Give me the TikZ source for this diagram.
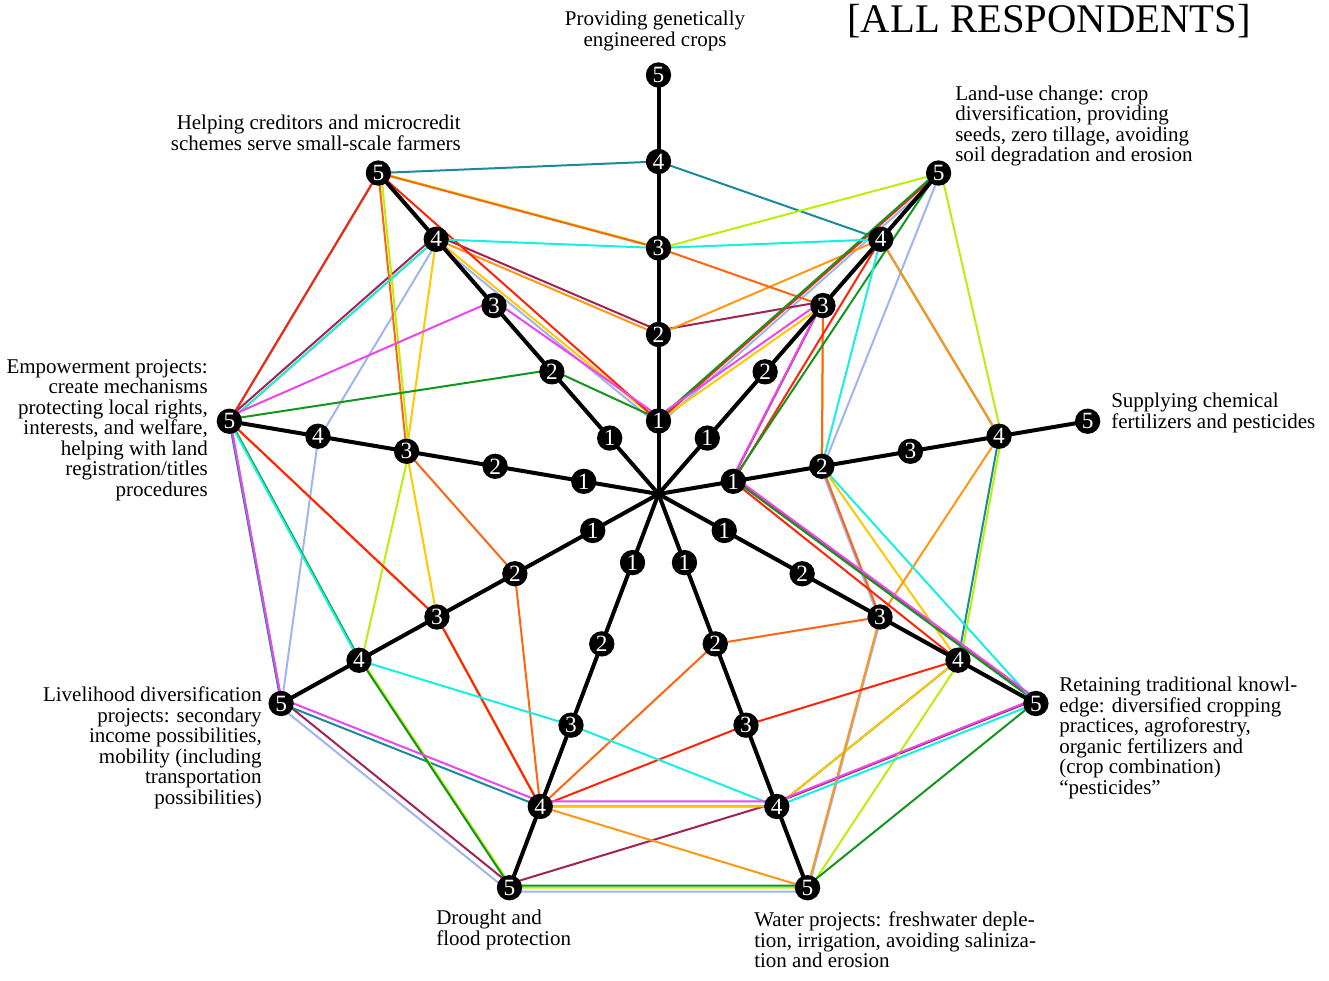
\documentclass[tikz,border=0pt]{standalone}
\usepackage{fontspec}
\setmainfont{Liberation Serif}
\pgfdeclarelayer{respondents}
\pgfdeclarelayer{spokes}
\pgfsetlayers{respondents,spokes,main}

\definecolor{cteal}{RGB}{28,138,152}
\definecolor{cred}{RGB}{255,35,10}
\definecolor{corangered}{RGB}{255,100,15}
\definecolor{corange}{RGB}{255,150,20}
\definecolor{clime}{RGB}{185,240,10}
\definecolor{ccyan}{RGB}{20,240,225}
\definecolor{cmagenta}{RGB}{235,70,240}
\definecolor{cmaroon}{RGB}{160,35,85}
\definecolor{cgreen}{RGB}{20,150,30}
\definecolor{clavender}{RGB}{160,180,240}
\definecolor{cgold}{RGB}{255,200,0}

\tikzset{
  valnode/.style={circle, fill=black, text=white, minimum size=19pt, inner sep=0pt,
    font=\fontsize{17.5}{17.5}\selectfont},
  spoke/.style={line width=3pt, black},
  answer/.style={line width=1.5pt, line join=round},
  axistext/.style={inner sep=0pt, font=\fontsize{15.75}{15.4}\selectfont},
  headline/.style={inner sep=0pt, font=\fontsize{30.5}{30.5}\selectfont},
  lift/.style={transform canvas={yshift=#1}},
  nudge/.style={transform canvas={xshift=#1}},
}

\begin{document}
\begin{tikzpicture}[x=0.75pt,y=-0.75pt]
\useasboundingbox (0,0) rectangle (1329,981);
\coordinate (O) at (658.5,494);

% value nodes on the nine spokes (angles in degrees, counter-clockwise)
\foreach \a/\t in {0/90,1/50,2/10,3/-30,4/-70,5/-110,6/-150,7/170,8/130}{
  \foreach \k in {1,...,5}{
    \pgfmathsetmacro\r{73+86.5*(\k-1)}
    \node[valnode] (n\a-\k) at ({658.5+1.04*\r*cos(\t)},{494-\r*sin(\t)}) {\k};
  }
}

% spokes
\begin{pgfonlayer}{spokes}
  \foreach \a in {0,...,8}
    \draw[spoke] (O) -- (n\a-5.center);
\end{pgfonlayer}

% one closed polyline per respondent
\begin{pgfonlayer}{respondents}
  \draw[answer, clavender, lift=-3pt] (n0-1.center) -- (n1-5.center) -- (n2-2.center) -- (n3-3.center) -- (n4-5.center) -- (n5-5.center) -- (n6-5.center) -- (n7-4.center) -- (n8-4.center) -- cycle;
  \draw[answer, cmaroon, lift=3pt] (n0-2.center) -- (n1-3.center) -- (n2-1.center) -- (n3-5.center) -- (n4-4.center) -- (n5-5.center) -- (n6-5.center) -- (n7-5.center) -- (n8-4.center) -- cycle;
  \draw[answer, cteal] (n0-4.center) -- (n1-4.center) -- (n2-4.center) -- (n3-4.center) -- (n4-4.center) -- (n5-4.center) -- (n6-5.center) -- (n7-5.center) -- (n8-5.center) -- cycle;
  \draw[answer, cgold] (n0-1.center) -- (n1-3.center) -- (n2-2.center) -- (n3-4.center) -- (n4-4.center) -- (n5-4.center) -- (n6-3.center) -- (n7-3.center) -- (n8-4.center) -- cycle;
  \draw[answer, corange] (n0-2.center) -- (n1-4.center) -- (n2-4.center) -- (n3-3.center) -- (n4-5.center) -- (n5-4.center) -- (n6-3.center) -- (n7-5.center) -- (n8-4.center) -- cycle;
  \draw[answer, clime, nudge=2pt] (n0-3.center) -- (n1-5.center) -- (n2-4.center) -- (n3-4.center) -- (n4-5.center) -- (n5-5.center) -- (n6-4.center) -- (n7-3.center) -- (n8-5.center) -- cycle;
  \draw[answer, corangered] (n0-3.center) -- (n1-3.center) -- (n2-2.center) -- (n3-3.center) -- (n4-2.center) -- (n5-4.center) -- (n6-2.center) -- (n7-3.center) -- (n8-5.center) -- cycle;
  \draw[answer, cred] (n0-1.center) -- (n1-5.center) -- (n1-4.center) -- (n2-1.center) -- (n3-4.center) -- (n4-3.center) -- (n5-4.center) -- (n6-3.center) -- (n7-5.center) -- (n8-5.center) -- cycle;
  \draw[answer, cgreen, lift=1.5pt] (n0-1.center) -- (n1-5.center) -- (n2-1.center) -- (n3-5.center) -- (n4-5.center) -- (n5-5.center) -- (n6-4.center) -- (n7-5.center) -- (n8-2.center) -- cycle;
  \draw[answer, ccyan] (n0-3.center) -- (n1-4.center) -- (n2-2.center) -- (n3-5.center) -- (n4-4.center) -- (n5-3.center) -- (n6-4.center) -- (n7-5.center) -- (n8-4.center) -- cycle;
  \draw[answer, cmagenta, lift=3.75pt] (n0-1.center) -- (n1-3.center) -- (n2-1.center) -- (n3-5.center) -- (n4-4.center) -- (n5-4.center) -- (n6-5.center) -- (n7-5.center) -- (n8-3.center) -- cycle;
\end{pgfonlayer}

% spoke captions
\node[headline] (title) at (1049,21) {[ALL RESPONDENTS]};
\node[axistext, align=center] (t0) at (655,31) {Providing genetically\\engineered crops};
\node[axistext, align=left, anchor=west] (t1) at (955,126) {Land-use change: crop\\diversification, providing\\seeds, zero tillage, avoiding\\soil degradation and erosion};
\node[axistext, align=left, anchor=west] (t2) at (1111,413) {Supplying chemical\\fertilizers and pesticides};
\node[axistext, align=left, anchor=west] (t3) at (1059,738) {Retaining traditional knowl-\\edge: diversified cropping\\practices, agroforestry,\\organic fertilizers and\\(crop combination)\\“pesticides”};
\node[axistext, align=left, anchor=west] (t4) at (754,940) {Water projects: freshwater deple-\\tion, irrigation, avoiding saliniza-\\tion and erosion};
\node[axistext, align=left, anchor=west] (t5) at (436,930) {Drought and\\flood protection};
\node[axistext, align=right, anchor=east] (t6) at (262,748) {Livelihood diversification\\projects: secondary\\income possibilities,\\mobility (including\\transportation\\possibilities)};
\node[axistext, align=right, anchor=east] (t7) at (208,430) {Empowerment projects:\\create mechanisms\\protecting local rights,\\interests, and welfare,\\helping with land\\registration/titles\\procedures};
\node[axistext, align=right, anchor=east] (t8) at (461,133) {Helping creditors and microcredit\\schemes serve small-scale farmers};
\end{tikzpicture}
\end{document}
